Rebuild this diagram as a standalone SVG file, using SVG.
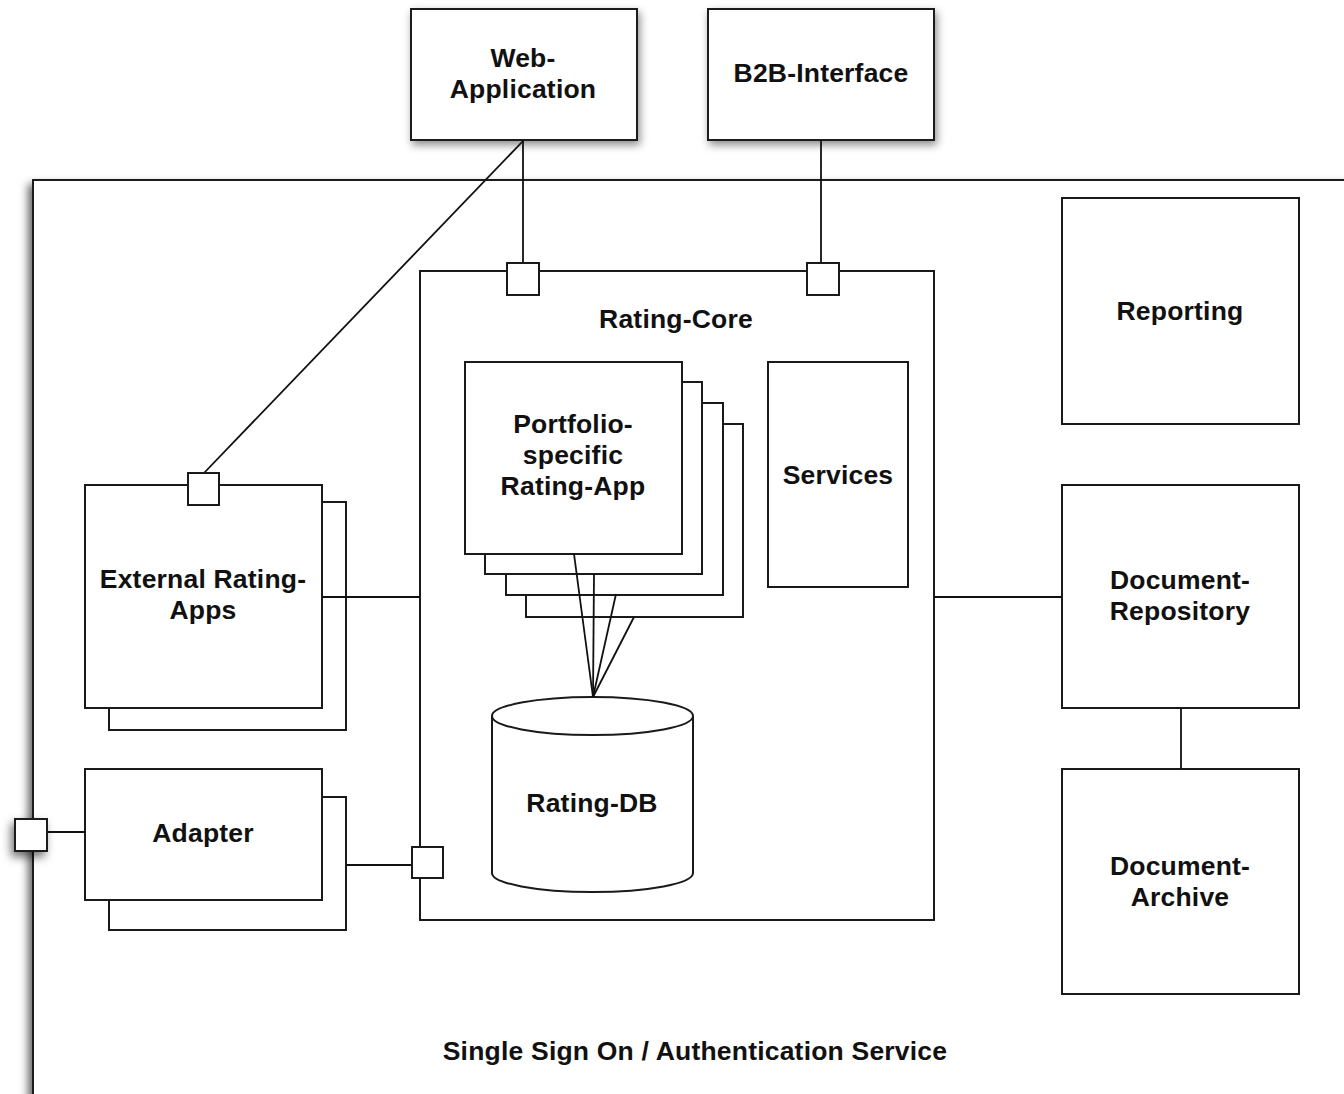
<svg xmlns="http://www.w3.org/2000/svg" width="1344" height="1094" viewBox="0 0 1344 1094">
<style>
.box{fill:#fff;stroke:#1a1a1a;stroke-width:2}
.port{fill:#fff;stroke:#1a1a1a;stroke-width:2}
.ln{fill:none;stroke:#111;stroke-width:1.8}
text{font-family:"Liberation Sans",Arial,Helvetica,sans-serif;font-weight:bold;font-size:26.5px;letter-spacing:0.2px;fill:#111;text-anchor:middle}
</style>
<defs>
<filter id="sh" x="-20%" y="-20%" width="150%" height="150%">
<feDropShadow dx="2" dy="4" stdDeviation="4" flood-color="#000" flood-opacity="0.45"/>
</filter>
<filter id="shOuter" x="-5%" y="-5%" width="110%" height="110%">
<feDropShadow dx="-4" dy="5" stdDeviation="4" flood-color="#000" flood-opacity="0.6"/>
</filter>
<filter id="shPort" x="-100%" y="-100%" width="300%" height="300%">
<feDropShadow dx="-3" dy="5" stdDeviation="5" flood-color="#000" flood-opacity="0.55"/>
</filter>
</defs>
<rect width="1344" height="1094" fill="#fff"/>

<g id="sso">
<rect class="box" x="33" y="180" width="1400" height="1000" filter="url(#shOuter)"/>
<text x="695" y="1060">Single Sign On / Authentication Service</text>
</g>

<g id="web-application">
<rect class="box" x="411" y="9" width="226" height="131" filter="url(#sh)"/>
<text x="523" y="67">Web-</text>
<text x="523" y="98">Application</text>
</g>

<g id="b2b-interface">
<rect class="box" x="708" y="9" width="226" height="131" filter="url(#sh)"/>
<text x="821" y="82">B2B-Interface</text>
</g>

<g id="rating-core">
<rect class="box" x="420" y="271" width="514" height="649"/>
<text x="676" y="328">Rating-Core</text>
</g>

<g id="portfolio-rating-app">
<rect class="box" x="526" y="424" width="217" height="193"/>
<rect class="box" x="506" y="403" width="217" height="192"/>
<rect class="box" x="485" y="382" width="217" height="192"/>
<rect class="box" x="465" y="362" width="217" height="192"/>
<text x="573" y="433">Portfolio-</text>
<text x="573" y="464">specific</text>
<text x="573" y="495">Rating-App</text>
</g>

<g id="rating-db">
<path class="box" d="M492,716 L492,873 A100.5,19 0 0 0 693,873 L693,716"/>
<ellipse class="box" cx="592.5" cy="716" rx="100.5" ry="19"/>
<text x="592" y="812">Rating-DB</text>
</g>

<g id="services">
<rect class="box" x="768" y="362" width="140" height="225"/>
<text x="838" y="484">Services</text>
</g>

<g id="external-rating-apps">
<rect class="box" x="109" y="502" width="237" height="228"/>
<rect class="box" x="85" y="485" width="237" height="223"/>
<text x="203" y="588">External Rating-</text>
<text x="203" y="619">Apps</text>
</g>

<g id="adapter">
<rect class="box" x="109" y="797" width="237" height="133"/>
<rect class="box" x="85" y="769" width="237" height="131"/>
<text x="203" y="842">Adapter</text>
</g>

<g id="reporting">
<rect class="box" x="1062" y="198" width="237" height="226"/>
<text x="1180" y="320">Reporting</text>
</g>

<g id="document-repository">
<rect class="box" x="1062" y="485" width="237" height="223"/>
<text x="1180" y="589">Document-</text>
<text x="1180" y="620">Repository</text>
</g>

<g id="document-archive">
<rect class="box" x="1062" y="769" width="237" height="225"/>
<text x="1180" y="875">Document-</text>
<text x="1180" y="906">Archive</text>
</g>

<g id="connectors">
<line class="ln" x1="523" y1="140" x2="523" y2="263"/>
<line class="ln" x1="821" y1="140" x2="821" y2="263"/>
<line class="ln" x1="523" y1="141" x2="204" y2="473"/>
<line class="ln" x1="322" y1="597" x2="420" y2="597"/>
<line class="ln" x1="47" y1="832" x2="85" y2="832"/>
<line class="ln" x1="346" y1="865" x2="412" y2="865"/>
<line class="ln" x1="934" y1="597" x2="1062" y2="597"/>
<line class="ln" x1="1181" y1="708" x2="1181" y2="769"/>
<line class="ln" x1="574" y1="554" x2="593" y2="697"/>
<line class="ln" x1="594" y1="574" x2="593" y2="697"/>
<line class="ln" x1="616" y1="594" x2="593" y2="697"/>
<line class="ln" x1="634" y1="617" x2="593" y2="697"/>
</g>

<g id="ports">
<rect class="port" x="507" y="263" width="32" height="32"/>
<rect class="port" x="807" y="263" width="32" height="32"/>
<rect class="port" x="412" y="847" width="31" height="31"/>
<rect class="port" x="188" y="473" width="31" height="32"/>
<rect class="port" x="15" y="819" width="32" height="32" filter="url(#shPort)"/>
</g>
</svg>
